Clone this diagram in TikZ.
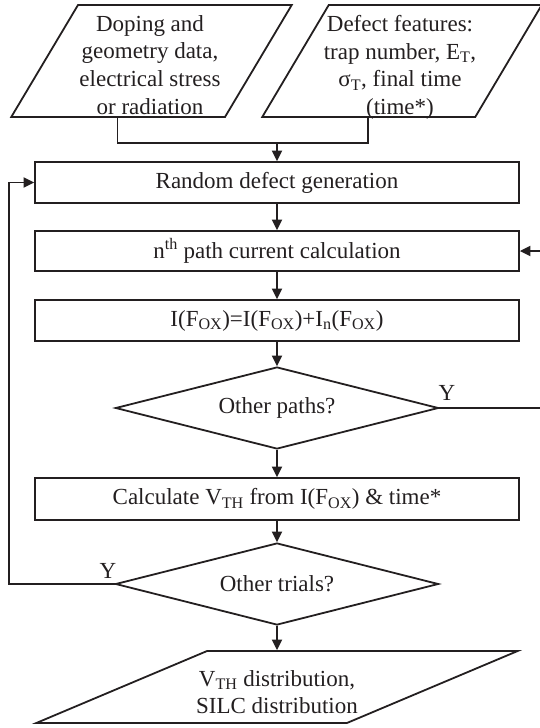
\documentclass[tikz,border=0pt]{standalone}
\usepackage{fontspec}
\setmainfont{Liberation Serif}
\usetikzlibrary{shapes.geometric,arrows.meta}
\definecolor{ink}{RGB}{35,31,32}
\newcommand{\fsz}{\fontsize{23}{27.6}\selectfont}
\tikzset{
  line/.style={draw=ink, line width=1.8pt},
  arr/.style={draw=ink, line width=1.8pt, -{Triangle[length=10.5pt,width=10pt]}},
  box/.style={line, rectangle, minimum width=484pt, inner sep=0pt, text=ink, font=\fsz},
  dec/.style={line, diamond, aspect=3.93, minimum width=323pt, minimum height=82pt, inner sep=0pt, text=ink, font=\fsz},
  para/.style={line, trapezium, trapezium stretches=true, inner sep=0pt, font=\fsz},
  lab/.style={text=ink, font=\fsz, inner sep=0pt, align=center},
}
\begin{document}
\begin{tikzpicture}[x=1pt,y=-1pt]
\useasboundingbox (0,0) rectangle (539,728);
% inputs
\node[para, minimum width=281pt, minimum height=112pt,
      trapezium left angle=63.4, trapezium right angle=116.6] (in1) at (151.5,61) {\phantom{X}};
\node[lab] (in1t) at (150,64.8)
  {Doping and\\geometry data,\\electrical stress\\or radiation};
\node[para, minimum width=280pt, minimum height=112pt,
      trapezium left angle=63.4, trapezium right angle=116.6] (in2) at (402,61) {\phantom{X}};
\node[lab] (in2t) at (400,67.3)
  {Defect features:\\trap number, E\textsubscript{T},\\σ\textsubscript{T}, final time\\(time*)};
% process
\node[box, minimum height=41pt] (b1) at (277,182.5) {Random defect generation};
\node[box, minimum height=40pt] (b2) at (277,251) {n\textsuperscript{th} path current calculation};
\node[box, minimum height=41pt] (b3) at (277,320.5) {I(F\textsubscript{OX})=I(F\textsubscript{OX})+I\textsubscript{n}(F\textsubscript{OX})};
\node[dec] (d1) at (277,408) {Other paths?};
\node[box, minimum height=42pt] (b4) at (277,499) {Calculate V\textsubscript{TH} from I(F\textsubscript{OX}) \& time*};
\node[dec] (d2) at (277,584) {Other trials?};
\node[para, minimum width=484pt, minimum height=72pt,
      trapezium left angle=36.6, trapezium right angle=143.4] (out) at (277,687) {\phantom{X}};
\node[lab] (outt) at (277,692) {V\textsubscript{TH} distribution,\\SILC distribution};
% labels
\node[lab] (y1) at (447,393) {Y};
\node[lab] (y2) at (108,571) {Y};
% connectors
\coordinate (j) at (277,143);
\draw[line] (in1.bottom side) |- (j);
\draw[line] (in2.bottom side) |- (j);
\draw[arr] (j) -- (b1.north);
\draw[arr] (b1.south) -- (b2.north);
\draw[arr] (b2.south) -- (b3.north);
\draw[arr] (b3.south) -- (d1.north);
\draw[arr] (d1.south) -- (b4.north);
\draw[arr] (b4.south) -- (d2.north);
\draw[arr] (d2.south) -- (out.north);
\coordinate (rc) at (542,408);
\draw[arr] (d1.east) -- (rc) |- (b2.east);
\coordinate (lc) at (9,584);
\draw[arr] (d2.west) -- (lc) |- (b1.west);
\end{tikzpicture}
\end{document}
